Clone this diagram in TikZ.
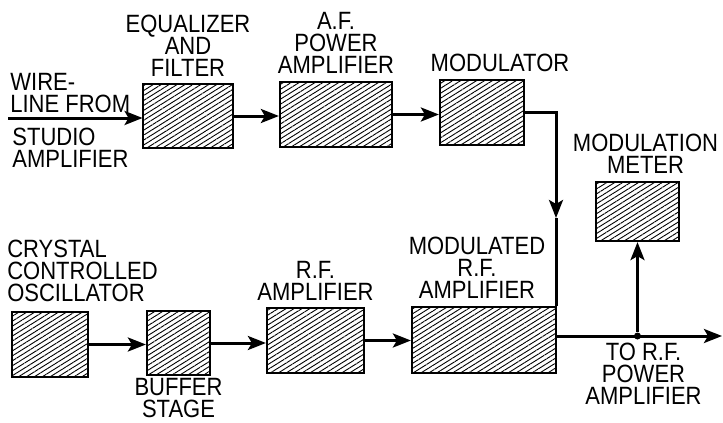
\documentclass[tikz,border=0pt]{standalone}
\usepackage{fontspec}
\setmainfont{Liberation Sans}[FakeStretch=0.88]
\usetikzlibrary{positioning,arrows.meta,patterns.meta}

\tikzset{
  stage/.style={draw, line width=1.1pt, inner sep=0pt,
    pattern={Lines[angle=32,distance=2.1pt,line width=0.45pt]}},
  lbl/.style={align=center, inner sep=0pt, font=\fontsize{12.5}{11}\selectfont},
  wire/.style={line width=1.5pt, -{Stealth[length=9pt,width=7pt,inset=2pt]}},
  dot/.style={circle, fill, inner sep=0pt, minimum size=3.5pt},
}

\begin{document}
\begin{tikzpicture}[x=0.5pt, y=-0.5pt, node distance=3.5pt]
  \useasboundingbox (0,0) rectangle (723,423);
  % audio chain
  \coordinate (src) at (8,118);
  \node[stage, minimum width=45pt, minimum height=32pt] (eq) at (188,116) {};
  \node[stage, minimum width=56pt, minimum height=32.5pt] (afp) at (336,114.5) {};
  \node[stage, minimum width=42pt, minimum height=32.5pt] (mod) at (482,112.5) {};
  \node[stage, minimum width=41.5pt, minimum height=29.5pt] (meter) at (637.5,211.5) {};
  % r.f. chain
  \node[stage, minimum width=38pt, minimum height=32.5pt] (xtal) at (50,344.5) {};
  \node[stage, minimum width=31.5pt, minimum height=32pt] (buf) at (178.5,343) {};
  \node[stage, minimum width=48.5pt, minimum height=32.5pt] (rfa) at (315.5,340.5) {};
  \node[stage, minimum width=72pt, minimum height=33pt] (mrf) at (484,340) {};
  \coordinate (drop) at (556,218);
  \coordinate (out) at (722,336);
  \node[dot] (jn) at (637.5,336) {};

  % labels
  \node[lbl, align=left, above right=2.5pt and 1pt of src] (srclbl) {WIRE-\\LINE FROM};
  \node[lbl, align=left, below right=5pt and 2pt of src] (studiolbl) {STUDIO\\AMPLIFIER};
  \node[lbl, above=3.5pt of eq] (eqlbl) {EQUALIZER\\AND\\FILTER};
  \node[lbl, above=3.5pt of afp] (afplbl) {A.F.\\POWER\\AMPLIFIER};
  \node[lbl, above=3.5pt of mod, xshift=9pt] (modlbl) {MODULATOR};
  \node[lbl, above=3.5pt of meter, xshift=4pt] (meterlbl) {MODULATION\\METER};
  \node[lbl, align=left, above=4.5pt of xtal.north west, anchor=south west, xshift=-2pt] (xtallbl) {CRYSTAL\\CONTROLLED\\OSCILLATOR};
  \node[lbl, below=1pt of buf] (buflbl) {BUFFER\\STAGE};
  \node[lbl, above=3pt of rfa] (rfalbl) {R.F.\\AMPLIFIER};
  \node[lbl, above=3.5pt of mrf, xshift=-3.5pt] (mrflbl) {MODULATED\\R.F.\\AMPLIFIER};
  \node[lbl, below=1.5pt of jn, xshift=3pt] (outlbl) {TO R.F.\\POWER\\AMPLIFIER};

  \path[wire]
    (src) edge (src -| eq.west)
    (eq.east) edge (eq.east -| afp.west)
    (afp.east) edge (afp.east -| mod.west)
    (xtal.east) edge (xtal.east -| buf.west)
    (buf.east) edge (buf.east -| rfa.west)
    (rfa.east) edge (rfa.east -| mrf.west)
    (jn) edge (meter);
  \draw[wire] (mod.east) -| (drop);
  \draw[line width=1.5pt] (drop) -- (drop |- mrf.north);
  \draw[wire] (mrf.east |- out) -- (out);
\end{tikzpicture}
\end{document}
